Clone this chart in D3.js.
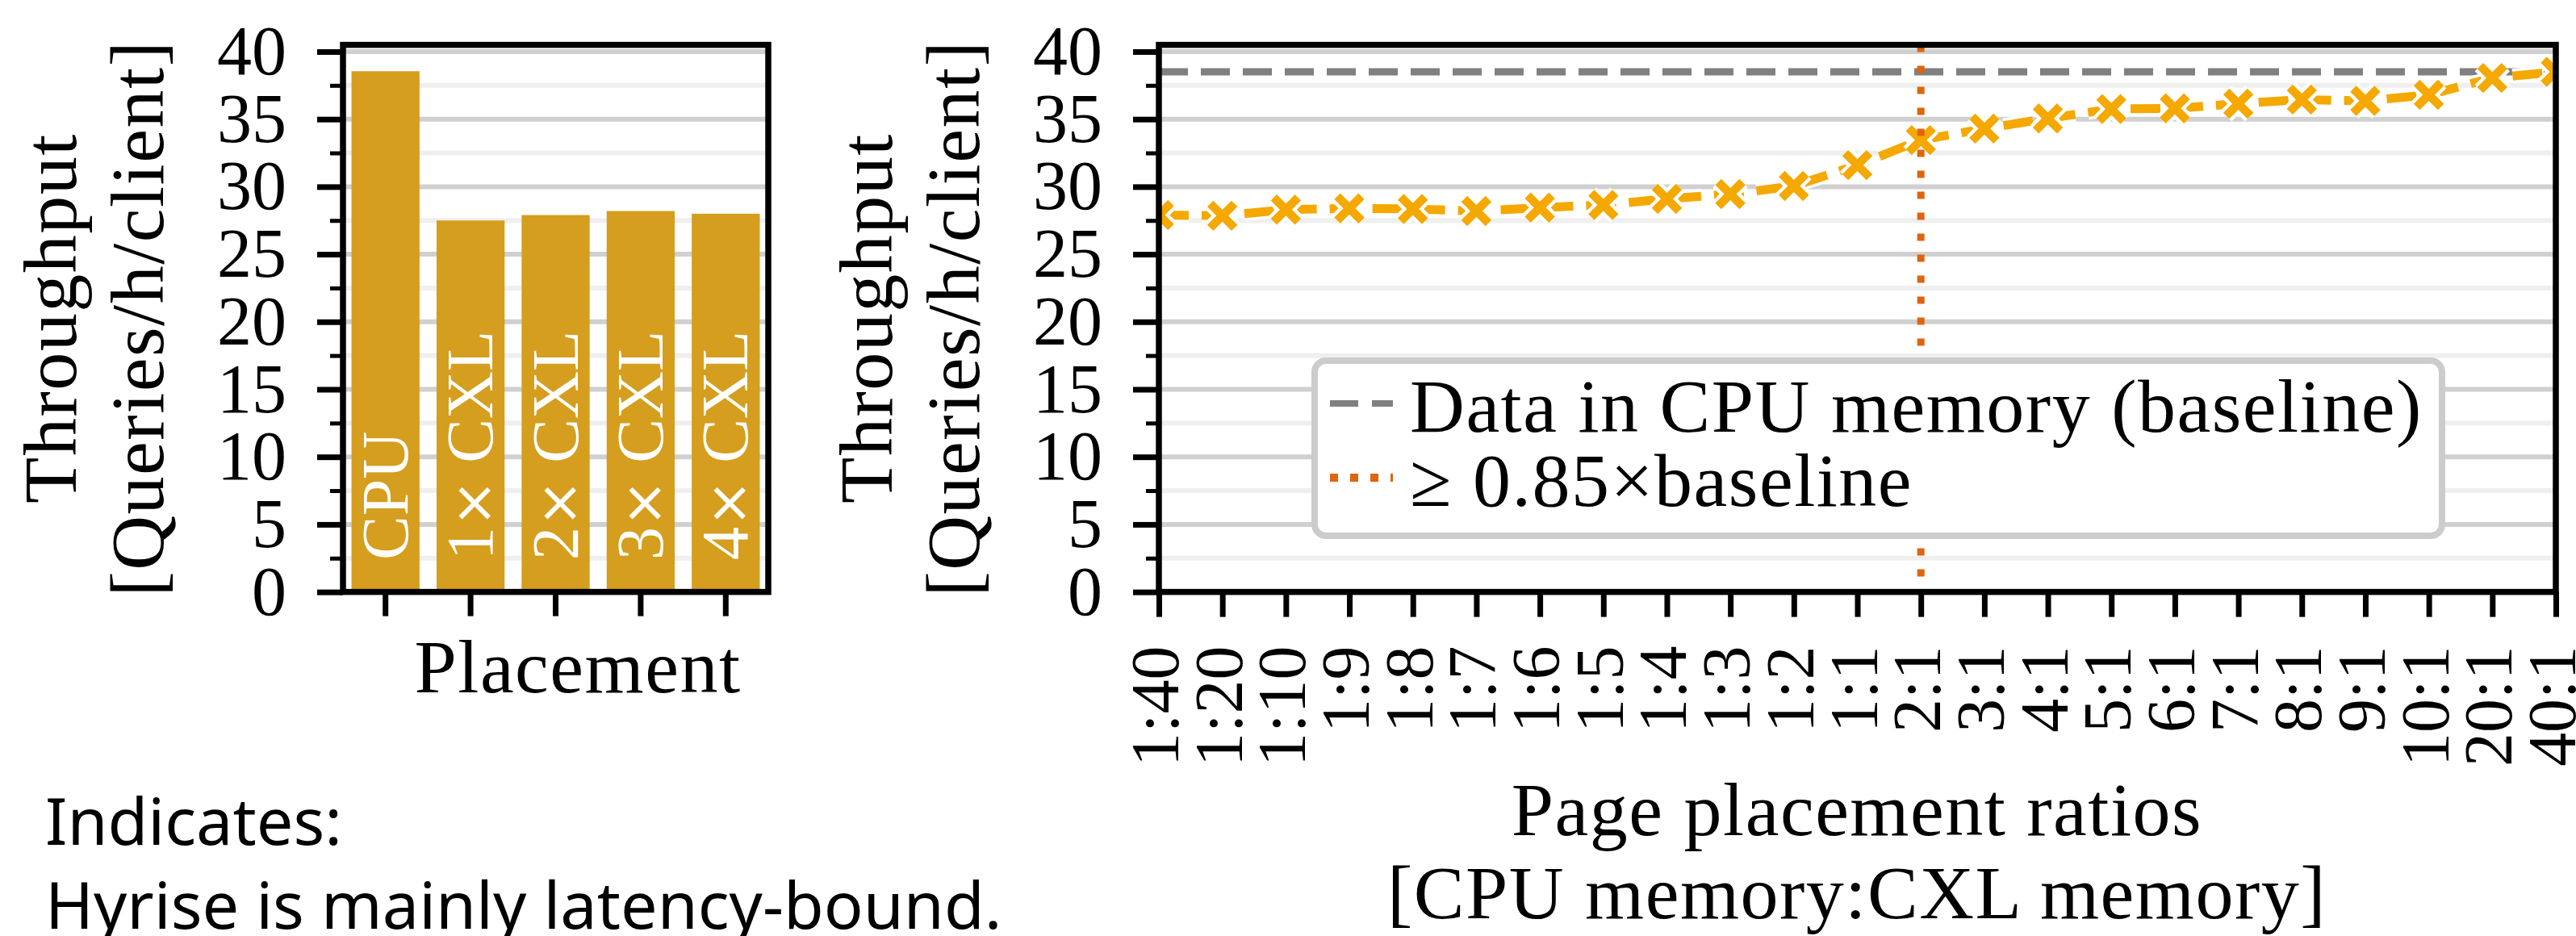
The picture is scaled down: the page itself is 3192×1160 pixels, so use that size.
<!DOCTYPE html>
<html>
<head>
<meta charset="utf-8">
<script src="https://cdn.jsdelivr.net/npm/d3@7"></script>
<style>
    body { margin: 0; background: #fff; }
    text { font-family: 'Liberation Serif', 'Times New Roman', serif; }
</style>
</head>
<body>
<div class="chart"></div>
<script>
'use strict'

// Data.
const placements = ['CPU', '1× CXL', '2× CXL', '3× CXL', '4× CXL'];
const placementThroughput = [38.55, 27.5, 27.9, 28.2, 28.0];

const ratios = ['1:40', '1:20', '1:10', '1:9', '1:8', '1:7', '1:6', '1:5', '1:4', '1:3', '1:2', '1:1',
    '2:1', '3:1', '4:1', '5:1', '6:1', '7:1', '8:1', '9:1', '10:1', '20:1', '40:1'];
const ratioThroughput = [27.9, 27.85, 28.3, 28.4, 28.35, 28.2, 28.45, 28.65, 29.1, 29.45, 30.05, 31.6,
    33.45, 34.3, 35.05, 35.75, 35.8, 36.15, 36.45, 36.35, 36.8, 38.05, 38.5];

const baselineThroughput = 38.5;
const thresholdRatio = '2:1';

const yTicks = [0, 5, 10, 15, 20, 25, 30, 35, 40];
const yMinorTicks = [2.5, 7.5, 12.5, 17.5, 22.5, 27.5, 32.5, 37.5];

const legendLabels = ['Data in CPU memory (baseline)', '≥ 0.85×baseline'];
const noteLines = ['Indicates:', 'Hyrise is mainly latency-bound.'];

// Dimensions.
let width = 3192,
    height = 1160,
    plotTop = 55.6,
    plotBottom = 733.6,
    left1 = 425, right1 = 952,
    left2 = 1436, right2 = 3167;

let barColor = '#d59e1e',
    lineColor = '#f5a800',
    dotColor = '#e0640c',
    labelFont = 94,
    tickFont = 86;

let svg = d3.select('.chart')
    .append('svg')
        .attr('width', width)
        .attr('height', height)
        .style('display', 'block');

// Shared y scale.
let y = d3.scaleLinear()
    .domain([0, 40.5])
    .range([plotBottom, plotTop]);

// Grid lines for a panel.
function grid(x0, x1) {
    let g = svg.append('g');
    g.selectAll('line.minor')
        .data(yMinorTicks)
        .join('line')
            .attr('class', 'minor')
            .attr('x1', x0).attr('x2', x1)
            .attr('y1', d => y(d)).attr('y2', d => y(d))
            .attr('stroke', '#efefef')
            .attr('stroke-width', 6);
    g.selectAll('line.major')
        .data(yTicks)
        .join('line')
            .attr('class', 'major')
            .attr('x1', x0).attr('x2', x1)
            .attr('y1', d => y(d)).attr('y2', d => y(d))
            .attr('stroke', '#d0d0d0')
            .attr('stroke-width', 6);
}

// Y axis with minor ticks.
function yAxis(x0) {
    svg.append('g')
        .attr('transform', `translate(${x0},0)`)
        .call(d3.axisLeft(y).tickValues(yMinorTicks).tickSize(16).tickFormat(''))
        .call(g => g.select('.domain').remove())
        .call(g => g.selectAll('.tick line').attr('stroke', '#000').attr('stroke-width', 5));

    svg.append('g')
        .attr('transform', `translate(${x0},0)`)
        .call(d3.axisLeft(y).tickValues(yTicks).tickSize(32).tickPadding(38).tickFormat(d3.format('d')))
        .call(g => g.select('.domain').remove())
        .call(g => g.selectAll('.tick line').attr('stroke', '#000').attr('stroke-width', 7))
        .call(g => g.selectAll('.tick text')
            .attr('fill', '#000')
            .style('font-family', 'Liberation Serif, serif')
            .style('font-size', tickFont + 'px'));
}

// Rotated two line y title.
function yTitle(x0) {
    let t = svg.append('text')
        .attr('transform', `translate(${x0 - 331},${(plotTop + plotBottom) / 2}) rotate(-90)`)
        .attr('text-anchor', 'middle')
        .style('font-size', labelFont + 'px')
        .style('letter-spacing', '1.5px');
    t.append('tspan').attr('x', 0).attr('dy', 0).text('Throughput');
    t.append('tspan').attr('x', 0).attr('dy', 108).text('[Queries/h/client]');
}

// ---- Left panel: placement bars.
grid(left1, right1);

let xBand = d3.scaleBand()
    .domain(placements)
    .range([left1, right1])
    .paddingInner(0.2)
    .paddingOuter(0.1);

svg.append('g')
    .selectAll('rect')
    .data(placements)
    .join('rect')
        .attr('x', d => xBand(d))
        .attr('width', xBand.bandwidth())
        .attr('y', (d, i) => y(placementThroughput[i]))
        .attr('height', (d, i) => y(0) - y(placementThroughput[i]))
        .attr('fill', barColor);

// Bar labels, white and rotated.
svg.append('g')
    .selectAll('text')
    .data(placements)
    .join('text')
        .attr('transform', d => `translate(${xBand(d) + xBand.bandwidth() / 2},694) rotate(-90)`)
        .attr('dy', '0.33em')
        .attr('fill', '#fff')
        .style('font-size', '82px')
        .each(function(d) {
            let parts = d.split('×');
            let el = d3.select(this);
            el.append('tspan').text(parts[0]);
            if (parts.length > 1) {
                el.append('tspan')
                    .style('font-family', 'DejaVu Sans, sans-serif')
                    .style('font-size', '70px')
                    .text('×');
                el.append('tspan').text(parts[1]);
            }
        });

svg.append('g')
    .attr('transform', `translate(0,${plotBottom})`)
    .call(d3.axisBottom(xBand).tickSize(30).tickFormat(''))
    .call(g => g.select('.domain').remove())
    .call(g => g.selectAll('.tick line').attr('stroke', '#000').attr('stroke-width', 7));

yAxis(left1);
yTitle(left1);

svg.append('text')
    .attr('x', 716)
    .attr('y', 858)
    .attr('text-anchor', 'middle')
    .style('font-size', labelFont + 'px')
    .style('letter-spacing', '1.5px')
    .text('Placement');

svg.append('rect')
    .attr('x', left1).attr('y', plotTop)
    .attr('width', right1 - left1).attr('height', plotBottom - plotTop)
    .attr('fill', 'none')
    .attr('stroke', '#000')
    .attr('stroke-width', 7.5);

// ---- Right panel: page placement ratios.
grid(left2, right2);

let xPoint = d3.scalePoint()
    .domain(ratios)
    .range([left2, right2]);

svg.append('defs')
    .append('clipPath')
        .attr('id', 'plot2')
    .append('rect')
        .attr('x', left2).attr('y', plotTop)
        .attr('width', right2 - left2).attr('height', plotBottom - plotTop);

let plot = svg.append('g').attr('clip-path', 'url(#plot2)');

// Baseline (data in CPU memory).
plot.append('line')
    .attr('x1', left2).attr('x2', right2)
    .attr('y1', y(baselineThroughput)).attr('y2', y(baselineThroughput))
    .attr('stroke', '#808080')
    .attr('stroke-width', 9)
    .attr('stroke-dasharray', '36,16');

let line = d3.line()
    .x((d, i) => xPoint(ratios[i]))
    .y(d => y(d));

// Halo then line.
plot.append('path')
    .datum(ratioThroughput)
    .attr('d', line)
    .attr('fill', 'none')
    .attr('stroke', '#fff')
    .attr('stroke-width', 18)
    .attr('stroke-dasharray', '37,16');

plot.append('path')
    .datum(ratioThroughput)
    .attr('d', line)
    .attr('fill', 'none')
    .attr('stroke', lineColor)
    .attr('stroke-width', 11)
    .attr('stroke-dasharray', '37,16');

let cross = 'M-15,-15L15,15M-15,15L15,-15';

plot.append('g')
    .selectAll('path')
    .data(ratioThroughput)
    .join('path')
        .attr('transform', (d, i) => `translate(${xPoint(ratios[i])},${y(d)})`)
        .attr('d', cross)
        .attr('stroke', '#fff')
        .attr('stroke-width', 19);

plot.append('g')
    .selectAll('path')
    .data(ratioThroughput)
    .join('path')
        .attr('transform', (d, i) => `translate(${xPoint(ratios[i])},${y(d)})`)
        .attr('d', cross)
        .attr('stroke', lineColor)
        .attr('stroke-width', 10.5);

// Threshold ratio.
plot.append('line')
    .attr('x1', xPoint(thresholdRatio)).attr('x2', xPoint(thresholdRatio))
    .attr('y1', plotTop).attr('y2', plotBottom)
    .attr('stroke', dotColor)
    .attr('stroke-width', 9)
    .attr('stroke-dasharray', '9,17');

// X axis with rotated labels.
svg.append('g')
    .attr('transform', `translate(0,${plotBottom})`)
    .call(d3.axisBottom(xPoint).tickSize(31))
    .call(g => g.select('.domain').remove())
    .call(g => g.selectAll('.tick line').attr('stroke', '#000').attr('stroke-width', 7))
    .call(g => g.selectAll('.tick text')
        .attr('transform', 'rotate(-90)')
        .attr('x', -67)
        .attr('y', 0)
        .attr('dy', '0.28em')
        .attr('text-anchor', 'end')
        .attr('fill', '#000')
        .style('font-family', 'Liberation Serif, serif')
        .style('font-size', '84px'));

yAxis(left2);
yTitle(left2);

let xTitle = svg.append('text')
    .attr('text-anchor', 'middle')
    .style('font-size', labelFont + 'px')
    .style('letter-spacing', '1.5px');
xTitle.append('tspan').attr('x', 2301).attr('y', 1035).text('Page placement ratios');
xTitle.append('tspan').attr('x', 2301).attr('y', 1138).text('[CPU memory:CXL memory]');

// Legend.
let legend = svg.append('g');

legend.append('rect')
    .attr('x', 1629).attr('y', 447)
    .attr('width', 1397).attr('height', 217)
    .attr('rx', 14)
    .attr('fill', '#fff')
    .attr('stroke', '#cccccc')
    .attr('stroke-width', 8);

let legendStyles = [
    {color: '#808080', width: 8, dash: '35,17'},
    {color: dotColor, width: 10, dash: '10,15'}
];
let legendRows = [500, 592];

legend.selectAll('line')
    .data(legendLabels)
    .join('line')
        .attr('x1', 1648).attr('x2', 1726)
        .attr('y1', (d, i) => legendRows[i]).attr('y2', (d, i) => legendRows[i])
        .attr('stroke', (d, i) => legendStyles[i].color)
        .attr('stroke-width', (d, i) => legendStyles[i].width)
        .attr('stroke-dasharray', (d, i) => legendStyles[i].dash);

legend.selectAll('text')
    .data(legendLabels)
    .join('text')
        .attr('x', 1747)
        .attr('y', (d, i) => legendRows[i] + 35)
        .style('font-size', labelFont + 'px')
        .style('letter-spacing', '1.5px')
        .text(d => d);

svg.append('rect')
    .attr('x', left2).attr('y', plotTop)
    .attr('width', right2 - left2).attr('height', plotBottom - plotTop)
    .attr('fill', 'none')
    .attr('stroke', '#000')
    .attr('stroke-width', 7.5);

// Note below the bars.
svg.append('g')
    .selectAll('text')
    .data(noteLines)
    .join('text')
        .attr('x', 56)
        .attr('y', (d, i) => 1047 + i * 104)
        .style('font-family', 'Noto Sans, sans-serif')
        .style('font-size', '81px')
        .text(d => d);
</script>
</body>
</html>
